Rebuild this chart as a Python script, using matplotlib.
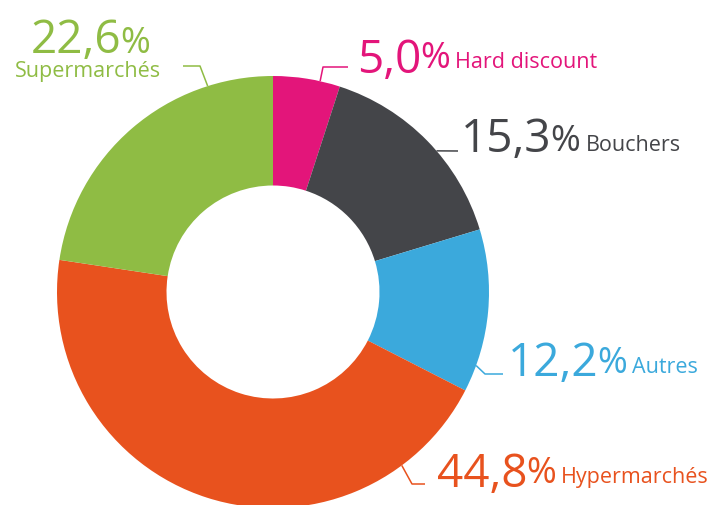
import numpy as np
import matplotlib
matplotlib.use('Agg')
import matplotlib.pyplot as plt

# parts de marché (%) en partant du haut, sens horaire
categories = ['Hard discount', 'Bouchers', 'Autres', 'Hypermarchés', 'Supermarchés']
shares = [5.0, 15.3, 12.2, 44.8, 22.6]
share_labels = ['5,0', '15,3', '12,2', '44,8', '22,6']
colors = ['#E3157A', '#444549', '#3BA9DC', '#E8521E', '#8FBC44']

W, H = 721, 506
CX, CY = 273, 293          # centre du donut (pixels image, y vers le bas)
R_OUT, R_IN = 216, 106.5

# angle de depart du trait sur le bord, points suivants du trait, position du nombre
layout = {
    'Hard discount': dict(angle=77.4, path=[(323, 68), (348, 68)], num=(357, 73), lift=5),
    'Bouchers': dict(angle=40.8, path=[(458, 152)], num=(461, 152), lift=1),
    'Autres': dict(angle=-19.9, path=[(485, 375), (503, 375)], num=(508, 376), lift=3),
    'Hypermarchés': dict(angle=-53.4, path=[(412, 485), (425, 485)], num=(437, 487), lift=4),
    'Supermarchés': dict(angle=107.6, path=[(200, 67), (183, 67)], num=(31, 53), lift=0,
                         label=(15, 77)),
}

plt.rcParams['font.family'] = ['Open Sans', 'DejaVu Sans']

fig = plt.figure(figsize=(W / 100, H / 100), dpi=100)
ax = fig.add_axes([0, 0, 1, 1])

ax.pie(shares, colors=colors, startangle=90, counterclock=False,
       radius=R_OUT, center=(CX, H - CY),
       wedgeprops=dict(width=R_OUT - R_IN, linewidth=0))
ax.set_xlim(0, W)
ax.set_ylim(0, H)
ax.set_aspect('equal')
ax.axis('off')

fig.canvas.draw()
renderer = fig.canvas.get_renderer()

for cat, lab, col in zip(categories, share_labels, colors):
    lay = layout[cat]
    a = np.deg2rad(lay['angle'])
    xs = [CX + R_OUT * np.cos(a)] + [p[0] for p in lay['path']]
    ys = [H - CY + R_OUT * np.sin(a)] + [H - p[1] for p in lay['path']]
    ax.plot(xs, ys, color=col, lw=1.1, solid_capstyle='butt')

    x, yb = lay['num']
    t = ax.text(x, H - yb, lab, fontsize=33, color=col, ha='left', va='baseline')
    xp = x + t.get_window_extent(renderer).width - 1
    p = ax.text(xp, H - yb + lay['lift'], '%', fontsize=26, color=col,
                ha='left', va='baseline')
    if 'label' in lay:
        lx, ly = lay['label']
        ax.text(lx, H - ly, cat, fontsize=15.5, color=col, ha='left', va='baseline')
    else:
        xl = xp + p.get_window_extent(renderer).width + 5
        ax.text(xl, H - yb + lay['lift'], cat, fontsize=15.5, color=col,
                ha='left', va='baseline')

fig.savefig('out.png', dpi=100)
